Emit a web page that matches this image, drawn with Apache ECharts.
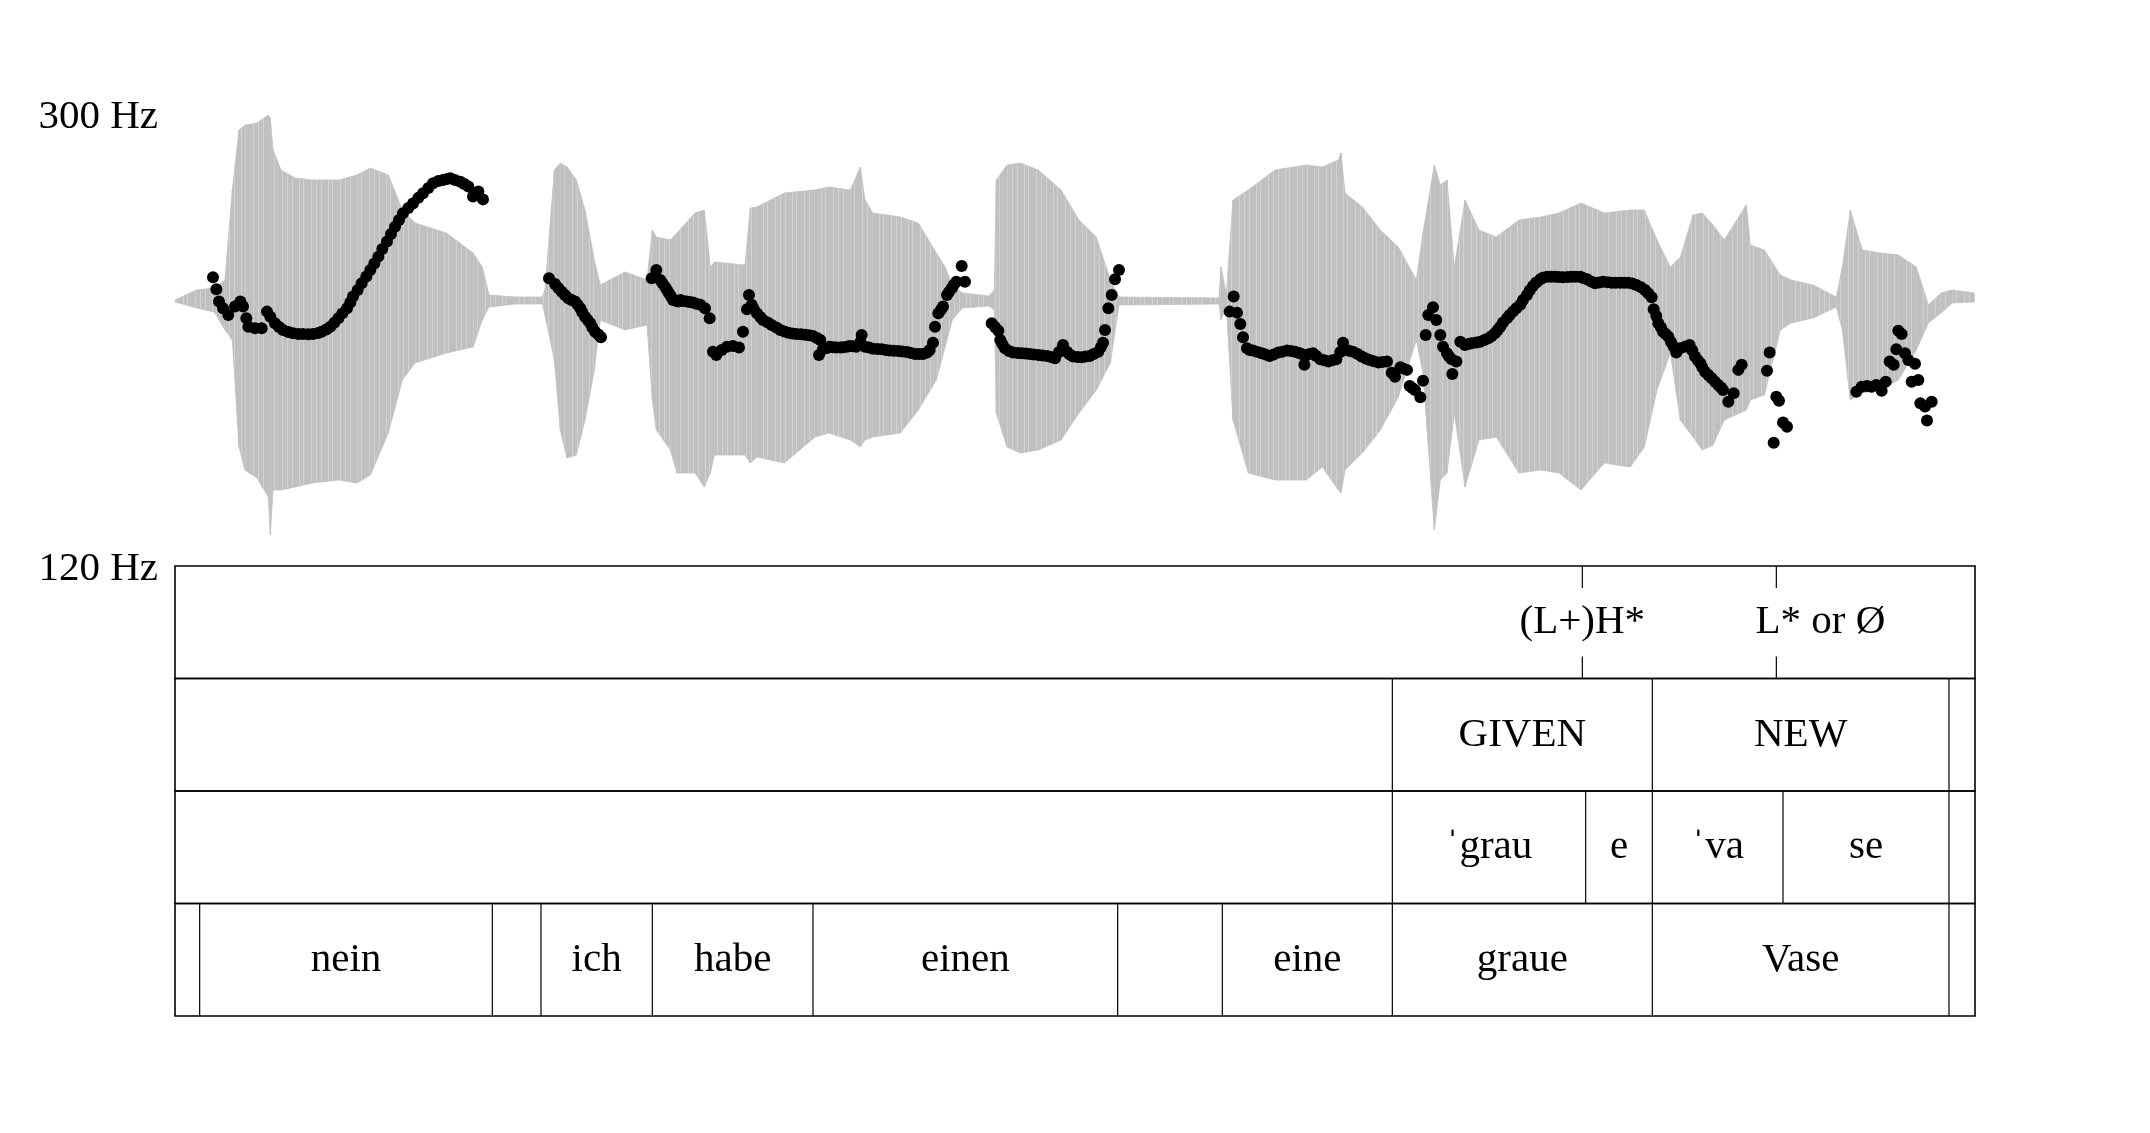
<!DOCTYPE html>
<html><head><meta charset="utf-8">
<script src="https://cdn.jsdelivr.net/npm/echarts@6/dist/echarts.min.js"></script>
<style>html,body{margin:0;padding:0;background:#fff}#c{width:2150px;height:1133px}</style>
</head><body><div id="c"></div><script>
// ---------- data ----------
const DURATION = 2.7; // seconds
const pitchAxisTicks = [120, 300];

// F0 track (time in s, F0 in Hz)
const pitchTime = [
0.057,0.062,0.066,0.072,0.080,0.090,0.098,0.102,0.107,0.110,0.120,0.130,0.138,0.143,0.150,0.156,0.162,0.170,0.177,0.185,0.192,0.200,0.207,0.215,0.220,0.227,0.233,0.239,0.245,0.251,0.258,0.263,0.267,0.274,0.280,0.287,0.293,0.299,0.305,0.311,0.318,0.324,0.330,0.336,0.342,0.350,0.357,0.365,0.372,0.380,0.387,0.395,0.402,0.408,0.413,0.420,0.428,0.434,0.440,0.447,0.455,0.462,
0.561,0.570,0.575,0.580,0.585,0.590,0.595,0.600,0.604,0.608,0.611,0.615,0.619,0.623,0.626,0.630,0.635,0.639,
0.715,0.722,0.728,0.731,0.735,0.738,0.741,0.744,0.747,0.752,0.755,0.758,0.762,0.768,0.772,0.777,0.782,0.788,0.795,0.802,0.807,0.812,0.820,0.828,0.837,0.846,0.852,0.858,0.861,0.865,0.868,0.873,0.878,0.882,0.889,0.895,0.902,0.908,0.914,0.920,0.926,0.932,0.939,0.945,0.951,0.957,0.963,0.968,0.966,0.972,0.978,0.982,0.987,0.992,0.998,1.002,1.008,1.012,1.017,1.022,1.030,1.028,1.035,1.041,1.047,1.054,1.060,1.066,1.072,1.078,1.085,1.091,1.098,1.104,1.110,1.116,1.122,1.128,1.132,1.137,1.140,1.145,1.149,1.152,1.158,1.161,1.165,1.168,1.172,1.180,1.185,
1.225,1.230,1.235,1.238,1.241,1.245,1.251,1.257,1.264,1.270,1.276,1.282,1.288,1.295,1.301,1.308,1.314,1.320,1.332,1.326,1.338,1.342,1.347,1.354,1.360,1.366,1.372,1.378,1.385,1.389,1.392,1.395,1.400,1.405,1.410,1.416,
1.588,1.582,1.593,1.598,1.602,1.608,1.612,1.617,1.624,1.630,1.636,1.642,1.648,1.655,1.661,1.668,1.674,1.680,1.686,1.694,1.690,1.698,1.702,1.707,1.712,1.718,1.724,1.730,1.736,1.742,1.752,1.748,1.755,1.761,1.767,1.774,1.780,1.786,1.792,1.798,1.805,1.811,1.818,1.825,1.830,1.838,1.842,1.848,1.852,1.856,1.860,1.868,1.872,
1.887,1.880,1.892,1.876,1.898,1.902,1.908,1.911,1.915,1.922,1.916,
1.928,1.935,1.940,1.945,1.952,1.958,1.964,1.970,1.975,1.980,1.984,1.988,1.992,1.998,2.002,2.007,2.012,2.018,2.022,2.028,2.032,2.037,2.042,2.048,2.052,2.058,2.064,2.070,2.076,2.082,2.089,2.095,2.101,2.108,2.112,2.118,2.124,2.130,2.136,2.142,2.149,2.155,2.161,2.168,2.174,2.180,2.186,2.192,2.199,2.205,2.210,2.215,2.218,2.222,2.225,2.229,2.232,2.236,2.240,2.244,2.248,2.252,
2.258,2.266,2.272,2.276,2.280,2.284,2.288,2.291,2.295,2.300,2.305,2.310,2.315,2.319,2.322,2.330,2.338,2.345,2.350,
2.388,2.392,2.402,2.406,2.412,2.418,2.398,
2.522,2.530,2.538,2.545,2.552,2.560,2.566,2.572,2.578,2.582,2.585,2.590,2.595,2.600,2.610,2.605,2.615,2.618,2.625,2.635,2.628
];
const pitchHz = [
235.0,230.2,225.3,222.6,220.0,223.3,225.3,223.3,218.7,215.3,214.7,214.7,221.3,219.3,216.7,215.2,214.0,213.2,212.7,212.4,212.4,212.3,212.4,212.8,213.3,214.2,215.3,216.9,218.7,220.6,222.6,224.9,227.3,229.9,232.6,235.3,237.9,240.5,243.2,246.2,249.2,252.2,255.1,257.8,260.5,262.6,264.4,266.6,268.4,270.5,272.4,273.3,273.7,274.1,274.4,273.7,273.0,272.1,271.1,267.1,269.1,266.0,
234.6,232.3,230.7,229.2,227.9,226.6,225.9,225.3,224.0,222.6,221.0,219.3,218.0,216.7,215.0,213.3,212.2,211.1,
234.6,237.9,233.9,232.7,231.2,229.9,228.6,227.3,225.9,225.5,225.3,225.9,225.5,225.3,225.1,224.9,224.4,224.0,222.6,218.7,205.3,204.0,206.0,207.3,207.6,207.0,213.3,222.2,227.9,224.0,222.4,220.6,219.2,218.0,217.0,216.0,215.0,214.0,213.4,212.9,212.6,212.4,212.3,212.1,211.9,211.6,210.8,210.0,204.0,206.3,206.8,207.3,207.1,207.0,207.0,207.1,207.3,207.6,207.5,207.3,212.0,209.2,207.3,207.0,206.5,206.4,206.3,206.0,205.8,205.7,205.6,205.4,205.2,204.8,204.4,204.4,204.4,205.0,206.0,208.9,215.3,220.6,222.0,223.3,227.9,229.1,230.6,231.9,233.2,239.5,233.2,
216.7,215.2,213.7,210.0,208.4,206.7,205.6,205.0,204.8,204.7,204.6,204.4,204.2,204.0,203.8,203.6,203.2,202.7,208.0,205.2,205.3,204.2,203.4,203.2,203.1,203.4,203.6,204.4,205.3,207.2,208.9,214.0,222.6,227.9,234.2,237.9,
227.3,221.3,220.9,216.4,211.1,206.7,206.0,205.8,205.2,204.7,204.2,203.6,204.2,205.0,205.3,205.8,205.6,205.3,204.8,200.1,204.4,204.0,204.4,204.7,203.6,202.3,201.9,201.4,201.9,202.3,208.9,205.2,206.0,205.7,205.3,204.4,203.4,202.6,202.0,201.5,201.0,201.2,201.4,197.0,195.4,199.1,198.7,198.1,191.7,190.9,190.1,187.2,193.8,
223.0,220.0,218.0,212.0,212.0,207.3,204.7,203.4,202.3,201.4,196.5,
209.3,208.0,208.4,208.7,209.0,209.3,210.0,210.7,211.6,212.7,214.0,215.3,217.0,218.7,220.0,221.3,222.6,224.0,225.9,227.9,229.7,231.5,232.9,234.2,234.8,235.2,235.2,235.2,235.1,235.0,235.1,235.2,235.2,235.2,234.7,234.2,233.3,232.6,232.9,233.2,233.0,232.8,232.8,232.8,232.8,232.8,232.5,231.9,231.0,229.9,228.5,227.0,222.2,219.6,216.7,215.0,213.3,212.4,211.3,209.2,207.3,205.0,
206.7,207.4,208.0,205.8,203.4,202.0,200.7,199.1,197.4,196.1,194.8,193.4,192.1,191.1,190.1,185.4,188.8,198.1,200.1,
197.8,205.0,187.4,185.8,177.1,175.5,169.1,
189.4,191.4,191.7,191.4,192.1,189.8,193.4,201.4,200.1,206.3,213.7,212.4,204.7,202.0,200.5,193.4,194.1,184.8,183.5,185.4,177.9
];

// Oscillogram envelope (time in s, relative amplitude)
const waveTime = [
0.000,0.032,0.059,0.075,0.086,0.096,0.105,0.123,0.140,0.143,0.147,0.159,0.180,0.206,0.246,0.273,0.293,0.320,0.341,0.360,0.407,0.447,0.461,0.471,0.510,0.551,
0.555,0.569,0.578,0.588,0.602,0.615,0.629,0.638,0.675,0.708,0.716,0.722,0.743,0.753,0.780,0.794,0.803,0.809,0.855,0.863,0.873,0.914,0.960,0.981,1.013,1.028,1.035,1.047,1.088,1.115,1.142,1.155,1.166,1.181,1.221,1.229,
1.232,1.248,1.268,1.295,1.329,1.356,1.382,1.403,1.416,1.566,1.569,1.577,1.587,1.610,1.650,1.697,1.721,1.745,1.749,1.755,1.781,1.808,1.835,1.862,1.872,1.889,1.898,1.908,1.919,1.935,1.956,1.982,2.016,2.049,2.076,2.109,2.144,2.183,2.204,2.223,2.243,2.258,2.277,2.291,2.307,2.324,2.357,2.363,2.384,2.408,2.424,2.457,2.492,2.501,2.513,2.531,2.558,2.585,2.612,2.630,2.649,2.666,2.699
];
const waveTop = [
0.00,0.05,0.06,0.10,0.55,0.85,0.875,0.885,0.925,0.91,0.75,0.65,0.61,0.60,0.60,0.625,0.66,0.625,0.45,0.385,0.335,0.235,0.165,0.025,0.015,0.015,
0.05,0.65,0.685,0.665,0.60,0.45,0.20,0.075,0.14,0.10,0.35,0.315,0.30,0.335,0.435,0.45,0.165,0.19,0.175,0.46,0.465,0.535,0.55,0.565,0.55,0.665,0.50,0.435,0.415,0.385,0.235,0.165,0.075,0.035,0.02,0.05,
0.60,0.675,0.685,0.65,0.55,0.40,0.315,0.10,0.015,0.01,0.165,0.03,0.50,0.55,0.65,0.675,0.665,0.70,0.735,0.535,0.465,0.35,0.265,0.10,0.335,0.675,0.575,0.60,0.165,0.50,0.35,0.315,0.40,0.415,0.435,0.485,0.435,0.45,0.45,0.30,0.165,0.215,0.425,0.435,0.375,0.30,0.475,0.275,0.25,0.125,0.10,0.075,0.015,0.165,0.45,0.25,0.235,0.225,0.165,-0.025,0.035,0.05,0.035
];
const waveBottom = [
-0.01,-0.04,-0.06,-0.15,-0.20,-0.735,-0.85,-0.89,-0.985,-1.175,-0.95,-0.95,-0.935,-0.915,-0.90,-0.915,-0.875,-0.665,-0.40,-0.315,-0.265,-0.235,-0.10,-0.035,-0.02,-0.02,
-0.075,-0.30,-0.65,-0.79,-0.775,-0.60,-0.35,-0.10,-0.15,-0.125,-0.50,-0.65,-0.75,-0.865,-0.865,-0.935,-0.865,-0.775,-0.775,-0.815,-0.785,-0.815,-0.685,-0.665,-0.70,-0.735,-0.70,-0.685,-0.665,-0.55,-0.40,-0.235,-0.10,-0.04,-0.03,-0.05,
-0.565,-0.735,-0.765,-0.75,-0.70,-0.565,-0.45,-0.315,-0.025,-0.02,-0.10,-0.035,-0.60,-0.865,-0.90,-0.90,-0.835,-0.95,-0.965,-0.85,-0.765,-0.65,-0.485,-0.20,-0.365,-1.15,-0.90,-0.865,-0.565,-0.935,-0.70,-0.685,-0.865,-0.85,-0.865,-0.95,-0.815,-0.835,-0.735,-0.45,-0.265,-0.60,-0.685,-0.75,-0.725,-0.60,-0.55,-0.50,-0.475,-0.15,-0.115,-0.09,-0.035,-0.15,-0.50,-0.465,-0.45,-0.40,-0.25,-0.115,-0.065,-0.015,-0.01
];

// TextGrid tiers (top to bottom)
const toneTimes = [2.111, 2.402];
const toneLabels = ['(L+)H*', 'L* or Ø'];
const focusBounds = [0, 1.826, 2.216, 2.661, 2.7];
const focusLabels = ['', 'GIVEN', 'NEW', ''];
const syllableBounds = [0, 1.826, 2.116, 2.216, 2.412, 2.661, 2.7];
const syllableLabels = ['', 'ˈgrau', 'e', 'ˈva', 'se', ''];
const wordBounds = [0, 0.037, 0.476, 0.549, 0.716, 0.957, 1.414, 1.571, 1.826, 2.216, 2.661, 2.7];
const wordLabels = ['', 'nein', '', 'ich', 'habe', 'einen', '', 'eine', 'graue', 'Vase', ''];

// ---------- chart ----------
const FONT = '41px "Liberation Serif", "Times New Roman", serif';
const LEFT = 175, WIDTH = 1800;
const TONE_TEXT_DX = [0, 44];

// striated fill imitating the oscillogram's individual periods
const patCanvas = document.createElement('canvas');
patCanvas.width = 29; patCanvas.height = 4;
(function () {
  const g = patCanvas.getContext('2d');
  g.fillStyle = '#c0c0c0'; g.fillRect(0, 0, 29, 4);
  g.fillStyle = '#d2d2d2';
  [2, 9, 13, 21, 26].forEach(x => g.fillRect(x, 0, 1, 4));
})();
const WAVE_FILL = {image: patCanvas, repeat: 'repeat'};

const intervalTiers = [[1, focusBounds, focusLabels], [2, syllableBounds, syllableLabels], [3, wordBounds, wordLabels]];
const intervalData = [], intervalText = [];
intervalTiers.forEach(([tier, b, l]) => {
  for (let i = 0; i < l.length; i++) { intervalData.push([b[i], b[i + 1], tier]); intervalText.push(l[i]); }
});

const chart = echarts.init(document.getElementById('c'), null, {renderer: 'canvas'});
chart.setOption({
  animation: false,
  backgroundColor: '#fff',
  grid: [
    {left: LEFT, width: WIDTH, top: 114, height: 452},   // pitch
    {left: LEFT, width: WIDTH, top: 60, height: 480},    // waveform
    {left: LEFT, width: WIDTH, top: 566, height: 450}    // tiers
  ],
  xAxis: [0, 1, 2].map(i => ({type: 'value', gridIndex: i, min: 0, max: DURATION, show: false})),
  yAxis: [
    {type: 'value', gridIndex: 0, min: 120, max: 300, interval: 60,
     axisLine: {show: false}, axisTick: {show: false}, splitLine: {show: false},
     axisLabel: {show: true, showMinLabel: true, showMaxLabel: true, margin: 17, color: '#000',
       fontSize: 41, fontFamily: '"Liberation Serif", "Times New Roman", serif',
       rich: {hz: {fontSize: 41, fontFamily: '"Liberation Serif", "Times New Roman", serif', color: '#000', padding: [6, 0, 0, 0]}},
       formatter: v => pitchAxisTicks.indexOf(v) >= 0 ? '{hz|' + v + ' Hz}' : ''}},
    {type: 'value', gridIndex: 1, min: -1.2, max: 1.2, show: false},
    {type: 'value', gridIndex: 2, min: 0, max: 4, inverse: true, show: false}
  ],
  series: [
    {
      type: 'custom', xAxisIndex: 1, yAxisIndex: 1, z: 1, silent: true, clip: false,
      data: waveTime.map((t, i) => [t, waveTop[i], waveBottom[i]]),
      renderItem: (params, api) => {
        const i = params.dataIndex;
        if (i >= waveTime.length - 1) return null;
        const pts = [
          api.coord([waveTime[i], waveTop[i]]), api.coord([waveTime[i + 1], waveTop[i + 1]]),
          api.coord([waveTime[i + 1], waveBottom[i + 1]]), api.coord([waveTime[i], waveBottom[i]])
        ];
        return {type: 'polygon', shape: {points: pts}, style: {fill: WAVE_FILL, stroke: '#c0c0c0', lineWidth: 0.8}};
      }
    },
    {
      type: 'scatter', xAxisIndex: 0, yAxisIndex: 0, z: 5, silent: true,
      symbol: 'circle', symbolSize: 12, itemStyle: {color: '#000', opacity: 1},
      data: pitchTime.map((t, i) => [t, pitchHz[i]])
    },
    {
      // tier frames
      type: 'custom', xAxisIndex: 2, yAxisIndex: 2, z: 3, silent: true, clip: false,
      data: [[0, DURATION, 0], [0, DURATION, 1], [0, DURATION, 2], [0, DURATION, 3]],
      renderItem: (params, api) => {
        const p0 = api.coord([api.value(0), api.value(2)]);
        const p1 = api.coord([api.value(1), api.value(2) + 1]);
        return {type: 'rect', shape: {x: p0[0], y: p0[1], width: p1[0] - p0[0], height: p1[1] - p0[1]},
          style: {fill: null, stroke: '#000', lineWidth: 1.6}};
      }
    },
    {
      // interval tiers
      type: 'custom', xAxisIndex: 2, yAxisIndex: 2, z: 3, silent: true, clip: false,
      data: intervalData,
      renderItem: (params, api) => {
        const s = api.value(0), e = api.value(1), tier = api.value(2);
        const p0 = api.coord([s, tier]), p1 = api.coord([e, tier + 1]);
        const children = [];
        if (s > 0) children.push({type: 'line', shape: {x1: p0[0], y1: p0[1], x2: p0[0], y2: p1[1]},
          style: {stroke: '#000', lineWidth: 1.2}});
        const txt = intervalText[params.dataIndex];
        if (txt) children.push({type: 'text', style: {text: txt, x: (p0[0] + p1[0]) / 2, y: (p0[1] + p1[1]) / 2,
          align: 'center', verticalAlign: 'middle', font: FONT, fill: '#000'}});
        return {type: 'group', children};
      }
    },
    {
      // point tier
      type: 'custom', xAxisIndex: 2, yAxisIndex: 2, z: 3, silent: true, clip: false,
      data: toneTimes.map(t => [t, 0]),
      renderItem: (params, api) => {
        const t = api.value(0), tier = api.value(1);
        const p0 = api.coord([t, tier]), p1 = api.coord([t, tier + 1]);
        const tick = 22;
        return {type: 'group', children: [
          {type: 'line', shape: {x1: p0[0], y1: p0[1], x2: p0[0], y2: p0[1] + tick}, style: {stroke: '#000', lineWidth: 1.2}},
          {type: 'line', shape: {x1: p0[0], y1: p1[1] - tick, x2: p0[0], y2: p1[1]}, style: {stroke: '#000', lineWidth: 1.2}},
          {type: 'text', style: {text: toneLabels[params.dataIndex], x: p0[0] + TONE_TEXT_DX[params.dataIndex],
            y: (p0[1] + p1[1]) / 2, align: 'center', verticalAlign: 'middle', font: FONT, fill: '#000'}}
        ]};
      }
    }
  ]
});
</script></body></html>
